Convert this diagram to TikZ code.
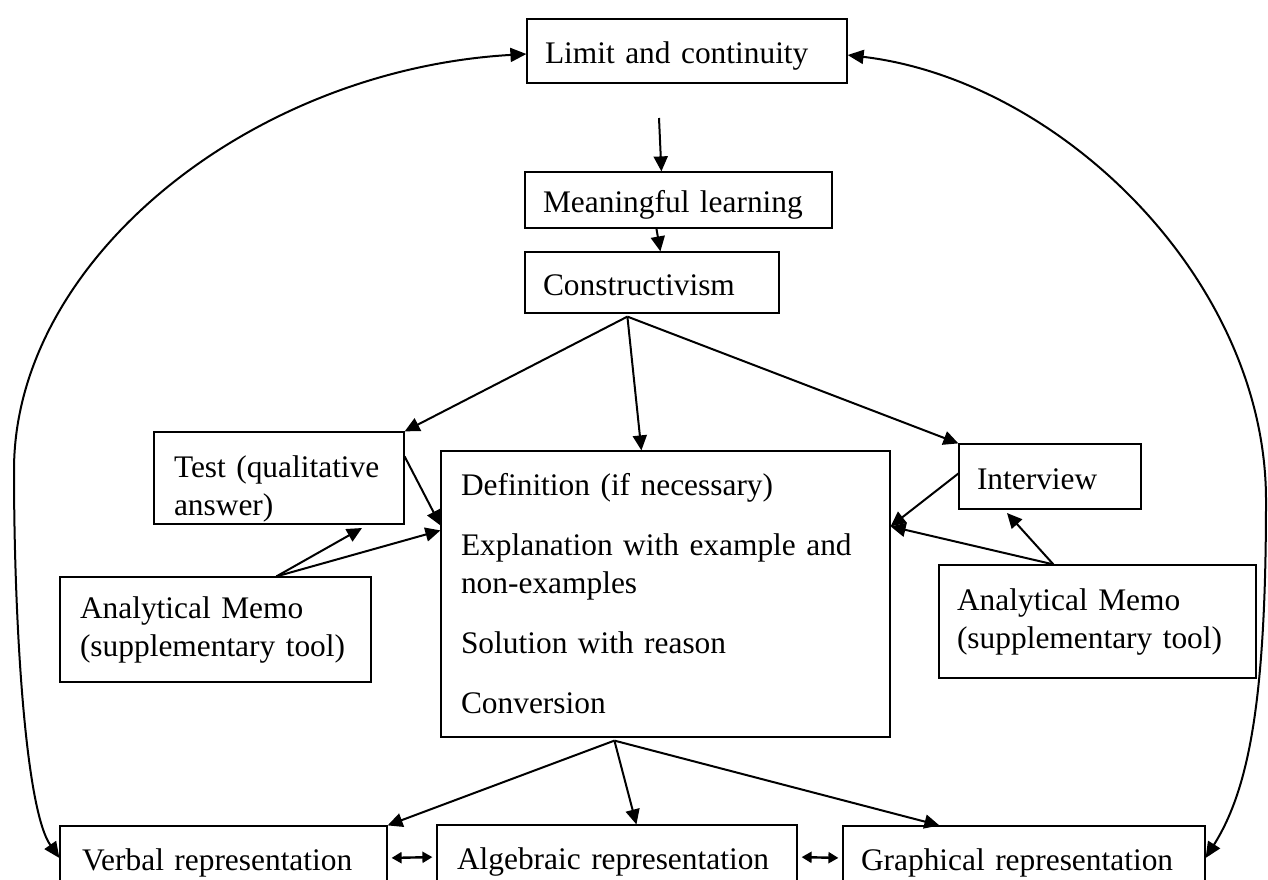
\documentclass[tikz,border=0pt]{standalone}
\usepackage{fontspec}
\setmainfont{Liberation Serif}
\usetikzlibrary{arrows.meta}

\begin{document}
\begin{tikzpicture}
[x=0.5pt,y=-0.5pt,
  boxDecorate/.style={draw,line width=0.6pt,inner xsep=9pt,inner ysep=0pt,align=left,font=\fontsize{15.7}{19}\selectfont},
  lineDecorate/.style={text height=15pt,text depth=2.4pt},
  arrowDecorate/.style={-{Triangle[length=7.5pt,width=7pt]},line width=1pt},
  curveDecorate/.style={{Triangle[length=8pt,width=7pt]}-{Triangle[length=8pt,width=7pt]},line width=1pt},
  twoWayDecorate/.style={{Triangle[length=5pt,width=5.5pt]}-{Triangle[length=5pt,width=5.5pt]},line width=1.2pt,shorten <=2pt,shorten >=2pt}]
\useasboundingbox (0,0) rectangle (1268,879);
%% boxes
\node (limit) at (687,51) [boxDecorate,lineDecorate,text width=142pt,minimum height=32pt] {Limit and continuity};
\node (meaning) at (678.5,200) [boxDecorate,lineDecorate,text width=135.5pt,minimum height=28pt] {Meaningful learning};
\node (constr) at (652,282.5) [boxDecorate,lineDecorate,text width=109pt,minimum height=30.5pt] {Constructivism};
\node (test) at (279,478) [boxDecorate,text width=105pt,minimum height=46pt,inner xsep=10pt] {\rule{0pt}{22pt}Test (qualitative\\answer)};
\node (defn) at (665.5,594) [boxDecorate,text width=204.5pt,minimum height=143pt,inner xsep=10pt]
  {Definition (if necessary)\\[11pt]Explanation with example and\\non-examples\\[11pt]Solution with reason\\[11pt]Conversion};
\node (intv) at (1050,476.5) [boxDecorate,lineDecorate,text width=73pt,minimum height=32.5pt] {Interview};
\node (memol) at (215.5,629.5) [boxDecorate,text width=135.5pt,minimum height=52.5pt,inner xsep=10pt] {Analytical Memo\\(supplementary tool)};
\node (memor) at (1097.5,621.5) [boxDecorate,text width=140.5pt,minimum height=56.5pt] {Analytical Memo\\(supplementary tool)};
\node (verbal) at (223.5,858) [boxDecorate,lineDecorate,text width=141.5pt,minimum height=32pt,inner xsep=11pt] {Verbal representation};
\node (alg) at (617,857) [boxDecorate,lineDecorate,text width=160pt,minimum height=32pt,inner xsep=10pt] {Algebraic representation};
\node (graph) at (1024,858) [boxDecorate,lineDecorate,text width=163pt,minimum height=32pt] {Graphical representation};
%% free ends
\coordinate (limitFoot) at (659,118);
\coordinate (constrFoot) at ([xshift=51.5pt,yshift=-1.5pt]constr.south west);
\coordinate (memoLTop) at ([xshift=108.5pt]memol.north west);
\coordinate (memoRTop) at ([xshift=57.5pt]memor.north west);
\coordinate (testFoot) at (362,528);
\coordinate (intvFoot) at (1007,513);
\coordinate (defnFoot) at ([xshift=87pt,yshift=-1.5pt]defn.south west);
%% edges or lines
\draw[arrowDecorate] (limitFoot) -- ([xshift=68.5pt]meaning.north west);
\draw[arrowDecorate] ([xshift=66pt]meaning.south west) -- ([xshift=68pt]constr.north west);
\draw[arrowDecorate] (constrFoot) -- (test.north east);
\draw[arrowDecorate] (constrFoot) -- ([xshift=100.5pt]defn.north west);
\draw[arrowDecorate] (constrFoot) -- (intv.north west);
\draw[arrowDecorate] ([yshift=-12.5pt]test.north east) -- ([yshift=-37.5pt]defn.north west);
\draw[arrowDecorate] (memoLTop) -- (testFoot);
\draw[arrowDecorate] (memoLTop) -- ([yshift=-40pt]defn.north west);
\draw[arrowDecorate] ([yshift=1.5pt]intv.west) -- ([yshift=-38pt]defn.north east);
\draw[arrowDecorate] (memoRTop) -- (intvFoot);
\draw[arrowDecorate] (memoRTop) -- ([yshift=-38pt]defn.north east);
\draw[arrowDecorate] (defnFoot) -- (verbal.north east);
\draw[arrowDecorate] (defnFoot) -- ([xshift=100pt]alg.north west);
\draw[arrowDecorate] (defnFoot) -- ([xshift=48.5pt]graph.north west);
\draw[twoWayDecorate] (verbal.east) -- (alg.west);
\draw[twoWayDecorate] (alg.east) -- (graph.west);
%% outer curves
\draw[curveDecorate] ([yshift=-1.5pt]limit.west) .. controls (250,70) and (14,260) .. (14,470)
  .. controls (14,620) and (25,809) .. (verbal.west);
\draw[curveDecorate] ([yshift=-2pt]limit.east) .. controls (1060,80) and (1266,280) .. (1266,500)
  .. controls (1266,700) and (1249,789) .. (graph.east);
\end{tikzpicture}
\end{document}
